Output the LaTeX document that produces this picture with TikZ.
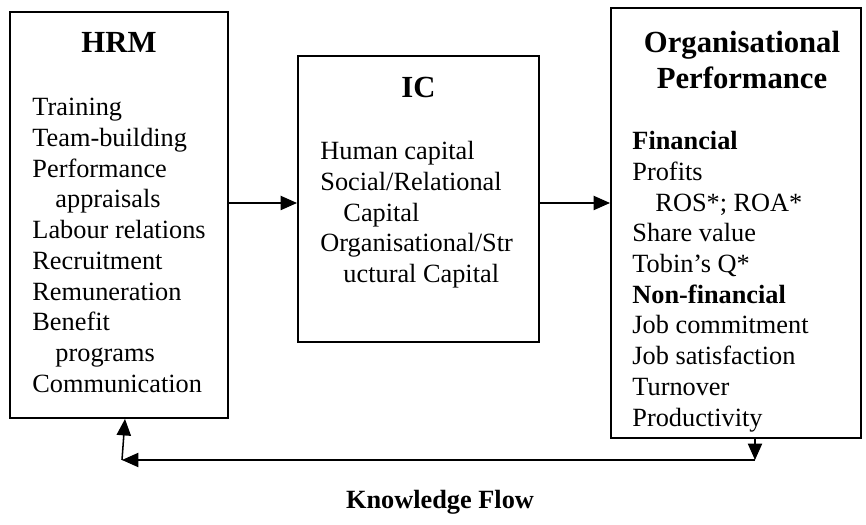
\documentclass[tikz,border=0pt]{standalone}
\usepackage{fontspec}
\setmainfont{Liberation Serif}
\usetikzlibrary{arrows.meta,fit}

\tikzset{
  box/.style={draw,line width=0.9pt,inner sep=0pt},
  flow/.style={-{Triangle[length=7.5pt,width=6.5pt]},line width=0.7pt},
  title/.style={font=\fontsize{14}{16.4}\selectfont\bfseries,inner sep=0pt,align=center},
  items/.style={font=\fontsize{12}{14}\selectfont,inner sep=0pt,align=left,anchor=north west}
}
\newcommand{\ind}{\hspace*{10.5pt}}

\begin{document}
\begin{tikzpicture}[x=0.456pt,y=-0.456pt]
    \useasboundingbox (0,0) rectangle (866,525);
    % Draw boxes
    \node[box,fit={(10,12) (228,418)}] (hrm) {};
    \node[box,fit={(298,56) (539,342)}] (ic) {};
    \node[box,fit={(611,8) (861,438)}] (perf) {};

    % Titles
    \node[title] (hrm-title) at (119,42) {HRM};
    \node[title] (ic-title) at (418.5,87) {IC};
    \node[title,anchor=north] (perf-title) at (742,31) {Organisational\\Performance};

    % Lists inside the boxes
    \node[items] (hrm-list) at (32,98) {Training\\Team-building\\Performance\\\ind appraisals\\Labour relations\\Recruitment\\Remuneration\\Benefit\\\ind programs\\Communication};
    \node[items] (ic-list) at (320,141) {Human capital\\Social/Relational\\\ind Capital\\Organisational/Str\\\ind uctural Capital};
    \node[items] (perf-list) at (632,131) {\textbf{Financial}\\Profits\\\ind ROS*; ROA*\\Share value\\Tobin’s Q*\\\textbf{Non-financial}\\Job commitment\\Job satisfaction\\Turnover\\Productivity};

    % Connectors
    \coordinate (mid) at (0,203);
    \draw[flow] (hrm.east |- mid) -- (ic.west |- mid);
    \draw[flow] (ic.east |- mid) -- (perf.west |- mid);

    % Feedback loop back to HRM
    \coordinate (kf-r) at (755,460);
    \coordinate (kf-l) at (122,460);
    \coordinate (kf-t) at (125,0);
    \draw[flow] (perf.south -| kf-r) -- (kf-r);
    \draw[flow] (kf-r) -- (kf-l);
    \draw[flow] (kf-l) -- (hrm.south -| kf-t);
    \node[font=\fontsize{12}{14}\selectfont\bfseries,inner sep=0pt,anchor=base] (kf-label) at (440,509) {Knowledge Flow};
\end{tikzpicture}
\end{document}
